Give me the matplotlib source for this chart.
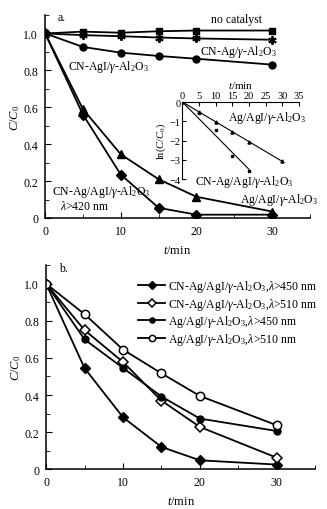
import numpy as np
import matplotlib
matplotlib.use("Agg")
import matplotlib.pyplot as plt
from matplotlib.ticker import MultipleLocator

plt.rcParams['font.family'] = ['Liberation Serif', 'DejaVu Serif']
plt.rcParams['mathtext.fontset'] = 'custom'
plt.rcParams['mathtext.rm'] = 'Liberation Serif'
plt.rcParams['mathtext.it'] = 'Liberation Serif:italic'

# panel a data
t = [0, 5, 10, 15, 20, 30]
no_cat = [1.0, 1.01, 1.004, 1.012, 1.016, 1.016]
cn_ag = [1.0, 0.991, 0.985, 0.978, 0.973, 0.966]
cn_agi = [1.0, 0.927, 0.896, 0.878, 0.863, 0.831]
cn_ag_agi = [1.0, 0.56, 0.235, 0.055, 0.018, 0.018]
ag_agi = [1.0, 0.59, 0.345, 0.21, 0.115, 0.035]

# inset: ln(C/C0)
t_in_cn = [0, 5, 10, 15, 20]
ln_cn = [0, -0.58, -1.43, -2.8, -3.6]
t_in_ag = [0, 5, 10, 15, 20, 30]
ln_ag = [0, -0.53, -1.06, -1.55, -2.07, -3.06]

# panel b data
t_b = [0, 5, 10, 15, 20, 30]
cn_450 = [1.0, 0.545, 0.28, 0.12, 0.048, 0.025]
cn_510 = [1.0, 0.75, 0.578, 0.37, 0.228, 0.062]
ag_450 = [1.0, 0.70, 0.546, 0.392, 0.273, 0.206]
ag_510 = [1.0, 0.836, 0.645, 0.517, 0.395, 0.237]

al = '$\\gamma$-Al$_2$O$_3$'
fs = 8.5

fig = plt.figure(figsize=(3.27, 5.10), dpi=100)


def style(ax):
    ax.spines['top'].set_visible(False)
    ax.spines['right'].set_visible(False)
    ax.set_xlim(0, 35)
    ax.set_ylim(0, 1.1)
    ax.xaxis.set_major_locator(MultipleLocator(10))
    ax.xaxis.set_minor_locator(MultipleLocator(5))
    ax.yaxis.set_major_locator(MultipleLocator(0.2))
    ax.yaxis.set_minor_locator(MultipleLocator(0.1))
    ax.set_yticks([0, 0.2, 0.4, 0.6, 0.8, 1.0])
    ax.set_yticklabels(['0', '0.2', '0.4', '0.6', '0.8', '1.0'])
    ax.tick_params(which='major', direction='in', length=4, labelsize=fs, pad=5)
    ax.tick_params(which='minor', direction='in', length=3)
    ax.set_xlabel('$t$/min', fontsize=fs + 0.5, labelpad=5)
    ax.set_ylabel('$C/C_0$', fontsize=fs + 0.5, labelpad=1)
    for s in ax.spines.values():
        s.set_linewidth(1.1)


lw = 1.3
# ---- panel a
ax1 = fig.add_axes([0.138, 0.5706, 0.810, 0.398])
style(ax1)
ax1.plot(t, no_cat, 'k-s', lw=lw, ms=5)
ax1.plot(t, cn_ag, 'k-', lw=lw, marker=(6, 2, 0), ms=6, mew=1.4)
ax1.plot(t, cn_agi, 'k-o', lw=lw, ms=5)
ax1.plot(t, cn_ag_agi, 'k-D', lw=lw, ms=5.5)
ax1.plot(t, ag_agi, 'k-^', lw=lw, ms=5.5)
ax1.text(1.7, 1.087, 'a.', fontsize=fs, va='center')
ax1.text(21.9, 1.076, 'no catalyst', fontsize=fs, va='center')
ax1.text(20.5, 0.907, 'CN-Ag/' + al, fontsize=fs, va='center')
ax1.text(3.0, 0.825, 'CN-AgI/' + al, fontsize=fs, va='center')
ax1.text(0.9, 0.148, 'CN-Ag/AgI/' + al, fontsize=fs, va='center')
ax1.text(2.0, 0.066, '$\\lambda$>420 nm', fontsize=fs, va='center')
ax1.text(25.8, 0.104, 'Ag/AgI/' + al, fontsize=fs, va='center')

# ---- inset
ax3 = fig.add_axes([0.558, 0.647, 0.356, 0.151])
ax3.spines['bottom'].set_visible(False)
ax3.spines['right'].set_visible(False)
ax3.xaxis.tick_top()
ax3.xaxis.set_label_position('top')
ax3.set_xlim(0, 35)
ax3.set_ylim(-4, 0)
ax3.set_xticks(range(0, 36, 5))
ax3.set_yticks([0, -1, -2, -3, -4])
ax3.set_yticklabels(['0', '\u22121', '\u22122', '\u22123', '\u22124'])
ax3.tick_params(direction='in', length=3, labelsize=7.5, pad=1.5)
ax3.set_xlabel('$t$/min', fontsize=8, labelpad=2)
ax3.set_ylabel('ln($C/C_0$)', fontsize=7.5, labelpad=1)
ax3.patch.set_alpha(0)
k_cn = np.sum(np.array(t_in_cn) * ln_cn) / np.sum(np.array(t_in_cn) ** 2)
k_ag = np.sum(np.array(t_in_ag) * ln_ag) / np.sum(np.array(t_in_ag) ** 2)
ax3.plot(t_in_cn, ln_cn, 'ks', ms=1.8, ls='none')
ax3.plot([0, t_in_cn[-1]], [0, k_cn * t_in_cn[-1]], 'k-', lw=0.8)
ax3.plot(t_in_ag, ln_ag, 'k^', ms=2.2, ls='none')
ax3.plot([0, t_in_ag[-1]], [0, k_ag * t_in_ag[-1]], 'k-', lw=0.8)
ax3.text(13.7, -0.78, 'Ag/AgI/' + al, fontsize=fs, va='center')
ax3.text(3.75, -4.1, 'CN-Ag/AgI/' + al, fontsize=fs, va='center')

# ---- panel b
ax2 = fig.add_axes([0.141, 0.078, 0.823, 0.40])
style(ax2)
ax2.plot(t_b, cn_450, 'k-D', lw=lw, ms=5.5, label='CN-Ag/AgI/' + al + ',$\\lambda$>450 nm')
ax2.plot(t_b, cn_510, 'k-D', lw=lw, ms=5, mfc='white', mew=1.1,
         label='CN-Ag/AgI/' + al + ',$\\lambda$>510 nm')
ax2.plot(t_b, ag_450, 'k-o', lw=lw, ms=5, label='Ag/AgI/' + al + ',$\\lambda$>450 nm')
ax2.plot(t_b, ag_510, 'k-o', lw=lw, ms=6, mfc='white', mew=1.1,
         label='Ag/AgI/' + al + ',$\\lambda$>510 nm')
ax2.text(1.7, 1.087, 'b.', fontsize=fs, va='center')
leg = ax2.legend(loc='upper left', bbox_to_anchor=(0.342, 0.935), frameon=False,
                 fontsize=fs, handlelength=2.3, handletextpad=0.25,
                 labelspacing=0.12, borderaxespad=0, borderpad=0,
                 markerscale=0.75)

fig.savefig('out.png', dpi=100)
